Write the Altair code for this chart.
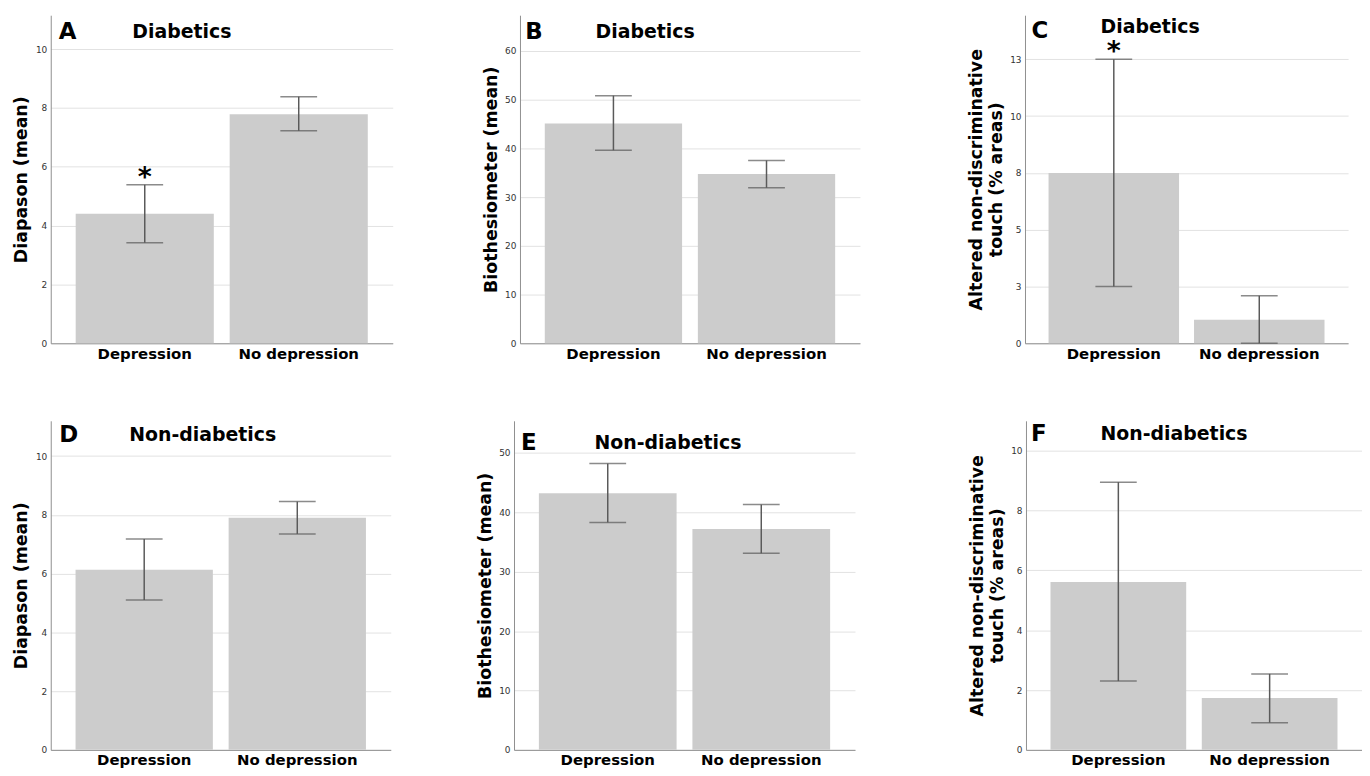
import altair as alt
import pandas as pd

groups = ["Depression", "No depression"]

# Panel A: Diabetics, Diapason
a_mean = [4.40, 7.78]
a_lo = [3.42, 7.22]
a_hi = [5.39, 8.38]
# Panel B: Diabetics, Biothesiometer
b_mean = [45.1, 34.7]
b_lo = [39.6, 31.9]
b_hi = [50.8, 37.5]
# Panel C: Diabetics, Altered non-discriminative touch
c_mean = [7.5, 1.04]
c_lo = [2.5, 0.0]
c_hi = [12.5, 2.09]
# Panel D: Non-diabetics, Diapason
d_mean = [6.13, 7.90]
d_lo = [5.10, 7.35]
d_hi = [7.18, 8.45]
# Panel E: Non-diabetics, Biothesiometer
e_mean = [43.2, 37.2]
e_lo = [38.3, 33.1]
e_hi = [48.2, 41.3]
# Panel F: Non-diabetics, Altered non-discriminative touch
f_mean = [5.61, 1.73]
f_lo = [2.30, 0.91]
f_hi = [8.95, 2.54]

ticks_diap = [0, 2, 4, 6, 8, 10]
ticks_bio_b = [0, 10, 20, 30, 40, 50, 60]
ticks_bio_e = [0, 10, 20, 30, 40, 50]
ticks_touch_c = [0, 2.5, 5, 7.5, 10, 12.5]
ticks_touch_f = [0, 2, 4, 6, 8, 10]

star_c = ["*", ""]
no_star = ["", ""]

FONT = "DejaVu Sans"
TOUCH_TITLE = ["Altered non-discriminative", "touch (% areas)"]


def panel(mean, lo, hi, ytop, ticks, ytitle, letter, title, width, height,
          stars, letter_xy, title_xy, round_labels=False):
    df = pd.DataFrame({"group": groups, "mean": mean, "lo": lo, "hi": hi, "star": stars})
    xs = alt.X("group:N", sort=groups,
               scale=alt.Scale(paddingInner=0.103, paddingOuter=0.162),
               axis=alt.Axis(title=None, labelAngle=0, labelFontSize=15,
                             labelFontWeight="bold", labelColor="black",
                             labelFont=FONT, ticks=False, domainColor="#8f8f8f",
                             labelPadding=3, grid=False))
    yaxis_kwargs = dict(values=ticks, title=ytitle, grid=True, gridColor="#e2e2e2",
                        domainColor="#8f8f8f", ticks=False, labelFontSize=9,
                        labelColor="#333333", labelFont=FONT, labelPadding=4,
                        titleFont=FONT, titleFontSize=17.5, titleFontWeight="bold",
                        titleColor="black", titlePadding=6, minExtent=14, maxExtent=14)
    if round_labels:
        yaxis_kwargs["labelExpr"] = "format(round(datum.value), 'd')"
    ys = alt.Y("mean:Q", scale=alt.Scale(domain=[0, ytop], nice=False, zero=True),
               axis=alt.Axis(**yaxis_kwargs))
    base = alt.Chart(df)
    bars = base.mark_bar(color="#cccccc").encode(x=xs, y=ys)
    rule = base.mark_rule(color="#5a5a5a", strokeWidth=1.5).encode(
        x=alt.X("group:N", sort=groups), y="lo:Q", y2="hi:Q")
    cap_hi = base.mark_tick(color="#5a5a5a", size=37, thickness=1.5).encode(
        x=alt.X("group:N", sort=groups), y="hi:Q")
    cap_lo = base.mark_tick(color="#5a5a5a", size=37, thickness=1.5).encode(
        x=alt.X("group:N", sort=groups), y="lo:Q")
    star = base.mark_text(fontSize=27, fontWeight="bold", font=FONT, color="black",
                          baseline="alphabetic", dy=1).encode(
        x=alt.X("group:N", sort=groups), y="hi:Q", text="star:N")
    lab = alt.Chart(pd.DataFrame({"t": [letter]})).mark_text(
        fontSize=23, fontWeight="bold", font=FONT, color="black",
        align="center", baseline="middle").encode(
        x=alt.value(letter_xy[0]), y=alt.value(letter_xy[1]), text="t:N")
    ttl = alt.Chart(pd.DataFrame({"t": [title]})).mark_text(
        fontSize=19, fontWeight="bold", font=FONT, color="black",
        align="left", baseline="middle").encode(
        x=alt.value(title_xy[0]), y=alt.value(title_xy[1]), text="t:N")
    return alt.layer(bars, rule, cap_hi, cap_lo, star, lab, ttl).properties(
        width=width, height=height)


pA = panel(a_mean, a_lo, a_hi, 11.15, ticks_diap, "Diapason (mean)", "A", "Diabetics",
           344, 330, star_c, (17, 17), (82, 17))
pB = panel(b_mean, b_lo, b_hi, 67.3, ticks_bio_b, "Biothesiometer (mean)", "B", "Diabetics",
           342, 330, no_star, (14, 17), (76, 17))
pC = panel(c_mean, c_lo, c_hi, 14.44, ticks_touch_c, TOUCH_TITLE, "C", "Diabetics",
           325, 330, star_c, (15, 16), (76, 12), round_labels=True)
pD = panel(d_mean, d_lo, d_hi, 11.2, ticks_diap, "Diapason (mean)", "D", "Non-diabetics",
           342, 331, no_star, (18, 14), (79, 14))
pE = panel(e_mean, e_lo, e_hi, 55.4, ticks_bio_e, "Biothesiometer (mean)", "E", "Non-diabetics",
           343, 331, no_star, (15, 22), (81, 22))
pF = panel(f_mean, f_lo, f_hi, 11.0, ticks_touch_f, TOUCH_TITLE, "F", "Non-diabetics",
           338, 331, no_star, (13, 13), (75, 13))

row1 = alt.hconcat(alt.hconcat(pA, pB, spacing=90), pC, spacing=108)
row2 = alt.hconcat(alt.hconcat(pD, pE, spacing=86), pF, spacing=114)

chart = alt.vconcat(row1, row2, spacing=60).properties(
    padding={"left": 5, "top": 5, "right": 0, "bottom": 0}
).configure(background="white").configure_view(stroke=None)

chart.save("out.html", embed_options={"renderer": "svg", "actions": False})
